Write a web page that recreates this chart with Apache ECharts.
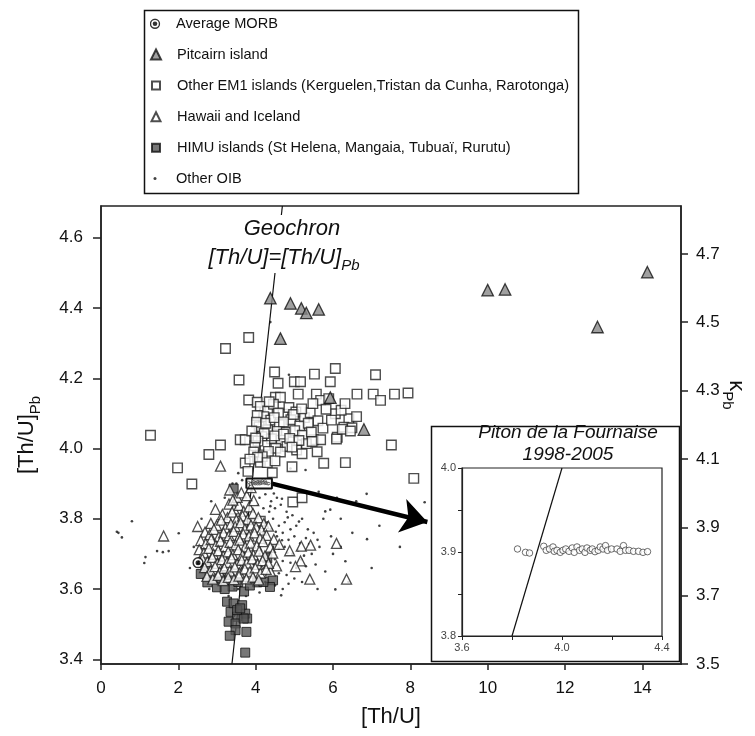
<!DOCTYPE html>
<html><head><meta charset="utf-8">
<script src="https://cdn.jsdelivr.net/npm/echarts@6/dist/echarts.min.js"></script>
<style>html,body{margin:0;padding:0;background:#fff}#c{width:755px;height:736px}</style>
</head><body><div id="c"></div>
<script>
// ---------- tick values ----------
const xTicks = [0, 2, 4, 6, 8, 10, 12, 14];
const yTicksLeft = [3.4, 3.6, 3.8, 4.0, 4.2, 4.4, 4.6];
const yTicksRight = [3.5, 3.7, 3.9, 4.1, 4.3, 4.5, 4.7];
const insetXTicks = [3.6, 3.8, 4.0, 4.2, 4.4];
const insetXLabels = [3.6, 4.0, 4.4];
const insetYTicks = [3.8, 3.85, 3.9, 3.95, 4.0];
const insetYLabels = [3.8, 3.9, 4.0];

// ---------- series names ----------
const names = ['Average MORB', 'Pitcairn island', 'Other EM1 islands (Kerguelen,Tristan da Cunha, Rarotonga)',
  'Hawaii and Iceland', 'HIMU islands (St Helena, Mangaia, Tubuaï, Rurutu)', 'Other OIB'];

// ---------- data [Th/U, [Th/U]Pb] ----------
const morb = [[2.51, 3.675]];
const pitcairn = [[4.38, 4.428], [4.90, 4.413], [5.18, 4.399], [5.31, 4.386], [5.63, 4.396], [4.64, 4.313],
  [5.93, 4.145], [6.80, 4.054], [10.0, 4.451], [10.45, 4.453], [12.84, 4.346], [14.13, 4.502]];
const em1 = [[3.82, 4.316], [3.22, 4.285], [4.49, 4.218], [3.57, 4.195], [4.58, 4.186], [5.00, 4.19], [5.16, 4.19],
  [5.52, 4.212], [6.06, 4.228], [5.93, 4.19], [7.10, 4.21], [5.10, 4.155], [5.57, 4.155], [6.62, 4.155], [7.04, 4.155],
  [7.23, 4.137], [7.59, 4.155], [7.94, 4.158], [3.82, 4.138], [4.04, 4.132], [4.51, 4.146], [4.64, 4.146], [5.68, 4.137],
  [6.06, 4.099], [6.41, 4.085], [6.28, 4.061], [6.49, 4.059], [1.28, 4.038], [3.09, 4.010], [3.60, 4.025], [3.73, 4.025],
  [6.11, 4.032], [7.51, 4.010], [5.50, 4.025], [5.68, 4.025],
  [4.12, 4.12], [4.31, 4.107], [4.46, 4.126], [4.71, 4.098], [4.86, 4.117], [5.04, 4.104], [5.26, 4.088], [5.41, 4.102],
  [5.61, 4.079], [5.82, 4.112], [4.21, 4.091], [4.39, 4.081], [4.61, 4.068], [4.91, 4.082], [5.14, 4.064], [5.36, 4.072],
  [5.74, 4.058], [4.09, 4.062], [4.31, 4.053], [4.56, 4.049], [4.79, 4.046], [5.01, 4.051], [5.21, 4.038], [5.44, 4.047],
  [4.16, 4.034], [4.41, 4.028], [4.66, 4.024], [4.96, 4.019], [5.31, 4.014], [4.24, 4.009], [4.52, 4.001], [4.81, 4.006],
  [5.06, 3.996], [4.04, 4.094], [4.59, 4.101], [5.96, 4.081], [6.21, 4.109], [6.61, 4.091], [5.89, 4.142], [6.31, 4.128],
  [4.02, 4.075], [4.26, 4.072], [4.48, 4.088], [4.72, 4.076], [4.98, 4.097], [5.19, 4.113], [5.48, 4.128], [4.35, 4.133],
  [4.22, 4.043], [4.49, 4.036], [4.72, 4.041], [4.88, 4.029], [5.12, 4.023], [4.06, 4.021], [4.33, 3.992], [3.98, 4.008],
  [2.79, 3.983], [1.98, 3.945], [2.35, 3.899], [3.73, 3.959], [3.80, 3.935], [4.43, 3.931], [4.12, 3.961], [4.17, 3.977],
  [4.64, 3.99], [4.94, 4.004], [5.20, 3.985], [5.59, 3.991], [4.94, 3.948], [5.76, 3.958], [6.32, 3.96], [6.09, 4.027],
  [5.46, 4.02], [6.24, 4.055], [6.45, 4.05], [8.09, 3.915], [4.96, 3.848], [5.20, 3.860], [4.12, 3.793],
  [3.95, 3.99], [4.05, 3.975], [3.90, 4.05], [4.00, 4.03], [3.85, 3.97], [4.30, 3.96], [4.50, 3.965]];
const hawaii = [[3.09, 3.950], [3.33, 3.882], [1.62, 3.751], [2.96, 3.827], [2.50, 3.778], [4.88, 3.709], [5.18, 3.722],
  [5.42, 3.725], [6.09, 3.730], [5.16, 3.680], [5.03, 3.664], [5.40, 3.628], [6.35, 3.628], [4.54, 3.666], [4.38, 3.651],
  [3.31, 3.842], [3.44, 3.828], [3.57, 3.838], [3.69, 3.821], [3.83, 3.834], [3.95, 3.852], [3.52, 3.861], [3.63, 3.874],
  [3.77, 3.866], [3.88, 3.889], [3.41, 3.853],
  [3.14, 3.812], [3.27, 3.803], [3.39, 3.819], [3.50, 3.797], [3.66, 3.808], [3.79, 3.798], [3.93, 3.815], [4.07, 3.803], [4.21, 3.786],
  [2.84, 3.787], [2.99, 3.781], [3.11, 3.796], [3.22, 3.774], [3.36, 3.785], [3.47, 3.778], [3.61, 3.789], [3.72, 3.771],
  [3.88, 3.782], [4.01, 3.776], [4.15, 3.768], [4.33, 3.779],
  [2.69, 3.762], [2.81, 3.755], [2.92, 3.770], [3.05, 3.749], [3.17, 3.760], [3.31, 3.752], [3.43, 3.764], [3.56, 3.746],
  [3.68, 3.757], [3.83, 3.751], [3.97, 3.760], [4.11, 3.744], [4.28, 3.753], [4.47, 3.741],
  [2.58, 3.738], [2.71, 3.729], [2.85, 3.741], [2.97, 3.724], [3.09, 3.736], [3.21, 3.721], [3.34, 3.733], [3.48, 3.726],
  [3.59, 3.739], [3.73, 3.720], [3.87, 3.731], [4.03, 3.723], [4.19, 3.735], [4.38, 3.719], [4.61, 3.727],
  [2.54, 3.712], [2.66, 3.703], [2.79, 3.716], [2.91, 3.699], [3.03, 3.709], [3.16, 3.694], [3.29, 3.706], [3.41, 3.698],
  [3.55, 3.712], [3.66, 3.696], [3.81, 3.705], [3.94, 3.697], [4.09, 3.708], [4.24, 3.694], [4.44, 3.702],
  [2.62, 3.686], [2.75, 3.678], [2.88, 3.690], [3.01, 3.673], [3.13, 3.684], [3.26, 3.676], [3.38, 3.688], [3.52, 3.671],
  [3.64, 3.682], [3.77, 3.674], [3.91, 3.686], [4.05, 3.670], [4.18, 3.681], [4.33, 3.673],
  [2.68, 3.661], [2.83, 3.652], [2.95, 3.664], [3.07, 3.648], [3.19, 3.659], [3.33, 3.651], [3.46, 3.663], [3.58, 3.646],
  [3.72, 3.657], [3.85, 3.649], [3.99, 3.660], [4.12, 3.645], [4.27, 3.656],
  [2.74, 3.636], [2.89, 3.628], [3.03, 3.639], [3.16, 3.624], [3.29, 3.633], [3.44, 3.627], [3.57, 3.637], [3.76, 3.629],
  [3.93, 3.634], [4.08, 3.626]];
const himu = [[2.58, 3.643], [2.75, 3.619], [3.40, 3.607], [3.70, 3.593], [4.04, 3.619], [4.30, 3.688], [4.45, 3.625],
  [4.37, 3.606], [3.43, 3.886], [2.90, 3.63], [3.10, 3.625], [3.25, 3.64], [3.55, 3.62], [3.85, 3.61], [4.20, 3.62],
  [2.70, 3.66], [3.00, 3.605], [3.20, 3.60],
  [3.26, 3.564], [3.43, 3.559], [3.65, 3.554], [3.73, 3.530], [3.35, 3.535], [3.52, 3.521], [3.78, 3.516], [3.30, 3.507],
  [3.48, 3.502], [3.69, 3.516], [3.48, 3.483], [3.76, 3.478], [3.33, 3.467], [3.73, 3.419], [3.52, 3.540], [3.60, 3.545]];
const otherOib = [[0.41, 3.763], [0.54, 3.747], [0.80, 3.793], [1.15, 3.691], [1.12, 3.674], [1.45, 3.708], [1.60, 3.705],
  [1.75, 3.708], [2.01, 3.759], [0.45, 3.760],
  [3.90, 3.88], [4.10, 3.86], [4.25, 3.87], [4.40, 3.85], [4.55, 3.86], [4.05, 3.84], [4.20, 3.83], [4.35, 3.82], [4.50, 3.83],
  [4.65, 3.84], [4.80, 3.82], [4.95, 3.81], [3.95, 3.82], [4.15, 3.80], [4.30, 3.79], [4.45, 3.80], [4.60, 3.78], [4.75, 3.79],
  [4.90, 3.77], [5.05, 3.78], [5.20, 3.80], [5.35, 3.77], [3.85, 3.79], [4.00, 3.78], [4.20, 3.76], [4.40, 3.77], [4.55, 3.75],
  [4.70, 3.76], [4.85, 3.74], [5.00, 3.75], [5.15, 3.73], [5.30, 3.745], [5.50, 3.76], [5.60, 3.74], [3.80, 3.76], [4.05, 3.74],
  [4.25, 3.73], [4.45, 3.72], [4.60, 3.715], [4.75, 3.72], [4.95, 3.70], [5.10, 3.71], [5.25, 3.695], [5.45, 3.70], [5.65, 3.72],
  [3.90, 3.72], [4.10, 3.70], [4.30, 3.69], [4.50, 3.685], [4.70, 3.68], [4.90, 3.675], [5.05, 3.66], [5.30, 3.665], [5.55, 3.67],
  [3.75, 3.69], [3.95, 3.67], [4.15, 3.665], [4.35, 3.655], [4.60, 3.645], [4.80, 3.64], [5.00, 3.63], [5.20, 3.62], [3.60, 3.65],
  [3.85, 3.64], [4.05, 3.63], [4.25, 3.62], [4.50, 3.61], [4.70, 3.60], [4.66, 3.582], [3.55, 3.60], [3.75, 3.58], [4.10, 3.59],
  [4.85, 3.615], [4.47, 3.872], [4.68, 3.857], [4.38, 3.836], [4.83, 3.804], [5.12, 3.792], [4.52, 3.763], [4.68, 3.739],
  [5.38, 3.728], [4.82, 3.703], [4.37, 3.706], [5.18, 3.684], [4.57, 3.668],
  [5.63, 3.877], [5.80, 3.821], [5.93, 3.826], [6.87, 3.871], [6.88, 3.742], [6.32, 3.679], [6.06, 3.599], [7.73, 3.720],
  [8.37, 3.847], [4.90, 3.943], [5.29, 3.939], [6.20, 3.80], [6.50, 3.76], [6.00, 3.70], [6.60, 3.85], [7.20, 3.78], [5.80, 3.65],
  [6.40, 3.62], [5.60, 3.60], [7.00, 3.66], [5.95, 3.75], [6.20, 3.72], [5.75, 3.80], [6.10, 3.86],
  [2.60, 3.80], [2.85, 3.85], [3.00, 3.68], [3.20, 3.86], [3.40, 3.90], [3.55, 3.93], [3.10, 3.62], [2.40, 3.72], [2.30, 3.66],
  [3.30, 3.58], [3.50, 3.90], [3.65, 3.91], [3.45, 3.60], [2.80, 3.60], [4.38, 4.36], [4.86, 4.21], [4.66, 4.02]];
// Piton de la Fournaise 1998-2005
const piton = [[3.822, 3.9036], [3.854, 3.8996], [3.870, 3.8988], [3.927, 3.9068], [3.937, 3.902], [3.950, 3.9036],
  [3.964, 3.906], [3.969, 3.9008], [3.980, 3.902], [3.993, 3.8996], [4.004, 3.902], [4.015, 3.9036], [4.028, 3.9008],
  [4.041, 3.9048], [4.049, 3.8996], [4.060, 3.906], [4.070, 3.902], [4.081, 3.9036], [4.092, 3.8996], [4.100, 3.9048],
  [4.113, 3.902], [4.121, 3.9036], [4.132, 3.9004], [4.145, 3.902], [4.153, 3.906], [4.164, 3.9036], [4.174, 3.9076],
  [4.182, 3.902], [4.198, 3.9036], [4.220, 3.9036], [4.233, 3.9008], [4.246, 3.9076], [4.254, 3.902], [4.268, 3.902],
  [4.286, 3.9008], [4.306, 3.9008], [4.324, 3.8996], [4.342, 3.9004]];
// Geochron [Th/U]=[Th/U]Pb
const geochronMain = [[3.3866, 3.3866], [4.6905, 4.6905]];
const geochronInset = [[3.8, 3.8], [4.0, 4.0]];
// zoom box and arrow (data coordinates)
const zoomBox = [[3.76, 3.886], [4.42, 3.886], [4.42, 3.915], [3.76, 3.915], [3.76, 3.886]];
const arrow = [[4.42, 3.900], [8.44, 3.791]];

const FF = '"Liberation Sans", Arial, Helvetica, sans-serif';
const morbSvg = "<svg xmlns='http://www.w3.org/2000/svg' width='24' height='24' viewBox='0 0 24 24'><circle cx='12' cy='12' r='9.8' fill='white' stroke='black' stroke-width='3'/><circle cx='12' cy='12' r='5' fill='black'/></svg>";
const morbSymbol = 'image://data:image/svg+xml;charset=utf-8,' + encodeURIComponent(morbSvg);

const chart = echarts.init(document.getElementById('c'), null, {renderer: 'canvas'});

const legendRows = [24.3, 55, 86, 117.3, 148.3, 179];
const legendSizes = [11, 10, 8, 9, 8, 3];
const legends = names.map((n, i) => ({
  data: [n], left: 155 - legendSizes[i] / 2, top: legendRows[i] - 8, orient: 'vertical', padding: 0,
  itemWidth: legendSizes[i], itemHeight: legendSizes[i], selectedMode: false,
  textStyle: {fontSize: 14.6, color: '#111', fontFamily: FF, padding: [0, 0, 0, 16 - legendSizes[i] / 2]}
}));

const axisLine = {show: true, lineStyle: {color: '#222', width: 1.5}};
const fmt1 = v => v.toFixed(1);

chart.setOption({
  animation: false,
  backgroundColor: '#fff',
  legend: legends,
  grid: [
    {left: 101, right: 74, top: 206, bottom: 72, show: true, borderColor: '#222', borderWidth: 1.5,
     containLabel: false, outerBoundsMode: 'none'},
    {left: 462, top: 468, width: 200, height: 168, show: true, borderColor: '#222', borderWidth: 1.2,
     containLabel: false, outerBoundsMode: 'none'}
  ],
  xAxis: [
    {type: 'value', gridIndex: 0, min: 0, max: 15, position: 'bottom',
     name: '[Th/U]', nameLocation: 'middle', nameGap: 42,
     nameTextStyle: {fontSize: 22, color: '#111', fontFamily: FF},
     axisLine, splitLine: {show: false},
     axisTick: {show: true, length: 6, lineStyle: {color: '#222', width: 1.5}, customValues: xTicks},
     axisLabel: {fontSize: 17, color: '#111', fontFamily: FF, margin: 16, customValues: xTicks, formatter: v => String(v)}},
    {type: 'value', gridIndex: 1, min: 3.6, max: 4.4, position: 'bottom',
     axisLine: {show: true, lineStyle: {color: '#222', width: 1.2}}, splitLine: {show: false},
     axisTick: {show: true, length: 4, lineStyle: {color: '#222'}, customValues: insetXTicks},
     axisLabel: {fontSize: 11, color: '#444', fontFamily: FF, margin: 6, customValues: insetXLabels, formatter: fmt1}}
  ],
  yAxis: [
    {type: 'value', gridIndex: 0, min: 3.3866, max: 4.6905, position: 'left',
     name: '{a|[Th/U]}{b|Pb}', nameLocation: 'middle', nameGap: 58, nameRotate: 90,
     nameTextStyle: {color: '#111', fontFamily: FF, rich: {
       a: {fontSize: 22, lineHeight: 32, verticalAlign: 'middle', fontFamily: FF, color: '#111'},
       b: {fontSize: 15, lineHeight: 32, verticalAlign: 'bottom', fontFamily: FF, color: '#111'}}},
     axisLine, splitLine: {show: false},
     axisTick: {show: true, length: 8, lineStyle: {color: '#222', width: 1.5}, customValues: yTicksLeft},
     axisLabel: {fontSize: 17, color: '#111', fontFamily: FF, margin: 18, customValues: yTicksLeft, formatter: fmt1}},
    {type: 'value', gridIndex: 0, min: 3.5, max: 4.84, position: 'right',
     name: '{a|κ}{b|Pb}', nameLocation: 'middle', nameGap: 39, nameRotate: -90, nameMoveOverlap: false,
     nameTextStyle: {color: '#111', fontFamily: FF, padding: [0, 80, 0, 0], rich: {
       a: {fontSize: 22, lineHeight: 32, verticalAlign: 'middle', fontFamily: FF, color: '#111'},
       b: {fontSize: 15, lineHeight: 32, verticalAlign: 'bottom', fontFamily: FF, color: '#111'}}},
     axisLine, splitLine: {show: false},
     axisTick: {show: true, length: 7, lineStyle: {color: '#222', width: 1.5}, customValues: yTicksRight},
     axisLabel: {fontSize: 17, color: '#111', fontFamily: FF, margin: 15, customValues: yTicksRight, formatter: fmt1}},
    {type: 'value', gridIndex: 1, min: 3.8, max: 4.0, position: 'left',
     axisLine: {show: true, lineStyle: {color: '#222', width: 1.2}}, splitLine: {show: false},
     axisTick: {show: true, length: 4, lineStyle: {color: '#222'}, customValues: insetYTicks},
     axisLabel: {fontSize: 11, color: '#444', fontFamily: FF, margin: 6, customValues: insetYLabels, formatter: fmt1}}
  ],
  series: [
    {type: 'line', xAxisIndex: 0, yAxisIndex: 0, data: geochronMain, symbol: 'none', silent: true,
     lineStyle: {color: '#111', width: 1.2}, z: 1},
    {name: names[5], type: 'scatter', xAxisIndex: 0, yAxisIndex: 0, data: otherOib, symbol: 'circle', symbolSize: 2.6,
     itemStyle: {color: '#111'}},
    {name: names[4], type: 'scatter', xAxisIndex: 0, yAxisIndex: 0, data: himu, symbol: 'rect', symbolSize: 9,
     itemStyle: {color: '#555', borderColor: '#111', borderWidth: 1}},
    {name: names[2], type: 'scatter', xAxisIndex: 0, yAxisIndex: 0, data: em1, symbol: 'rect', symbolSize: 9.5,
     itemStyle: {color: '#fff', borderColor: '#222', borderWidth: 1.4}},
    {name: names[3], type: 'scatter', xAxisIndex: 0, yAxisIndex: 0, data: hawaii, symbol: 'triangle', symbolSize: 10,
     itemStyle: {color: '#fff', borderColor: '#222', borderWidth: 1.3}},
    {name: names[1], type: 'scatter', xAxisIndex: 0, yAxisIndex: 0, data: pitcairn, symbol: 'triangle', symbolSize: 11.5,
     itemStyle: {color: '#888', borderColor: '#111', borderWidth: 1.3}},
    {name: names[0], type: 'scatter', xAxisIndex: 0, yAxisIndex: 0, data: morb, symbol: morbSymbol, symbolSize: 12},
    {type: 'scatter', xAxisIndex: 0, yAxisIndex: 0, data: piton, symbol: 'circle', symbolSize: 2.5, silent: true,
     itemStyle: {color: '#fff', borderColor: '#111', borderWidth: 0.6}, z: 5},
    {type: 'line', xAxisIndex: 0, yAxisIndex: 0, data: zoomBox, symbol: 'none', silent: true,
     lineStyle: {color: '#111', width: 2}, z: 6},
    {type: 'lines', coordinateSystem: 'cartesian2d', xAxisIndex: 0, yAxisIndex: 0, silent: true,
     data: [{coords: arrow}], symbol: ['none', 'arrow'], symbolSize: [20, 26],
     lineStyle: {color: '#000', width: 4.5, opacity: 1}, z: 6},
    {type: 'line', xAxisIndex: 1, yAxisIndex: 2, data: geochronInset, symbol: 'none', silent: true,
     lineStyle: {color: '#111', width: 1.2}},
    {type: 'scatter', xAxisIndex: 1, yAxisIndex: 2, data: piton, symbol: 'circle', symbolSize: 6.5, silent: true,
     itemStyle: {color: '#fff', borderColor: '#333', borderWidth: 0.9}}
  ],
  graphic: [
    {type: 'rect', left: 142, top: 8, shape: {width: 434, height: 183}, z: -1,
     style: {fill: 'none', stroke: '#111', lineWidth: 1.5}},
    {type: 'rect', left: 429, top: 424, shape: {width: 248, height: 235}, z: -1,
     style: {fill: 'none', stroke: '#111', lineWidth: 1.5}},
    {type: 'rect', left: 200, top: 215, shape: {width: 172, height: 58}, z: 50,
     style: {fill: '#fff'}},
    {type: 'text', x: 292, y: 229, z: 51,
     style: {text: 'Geochron', fontSize: 22, fontStyle: 'italic', fontFamily: FF, fill: '#111',
       align: 'center', verticalAlign: 'middle'}},
    {type: 'text', x: 284, y: 258, z: 51,
     style: {text: '{a|[Th/U]=[Th/U]}{b|Pb}', align: 'center', verticalAlign: 'middle',
       rich: {a: {fontSize: 22, fontStyle: 'italic', fontFamily: FF, fill: '#111', lineHeight: 30, verticalAlign: 'middle'},
              b: {fontSize: 15, fontStyle: 'italic', fontFamily: FF, fill: '#111', lineHeight: 30, verticalAlign: 'bottom'}}}},
    {type: 'text', x: 568, y: 433, z: 51,
     style: {text: 'Piton de la Fournaise', fontSize: 19, fontStyle: 'italic', fontFamily: FF, fill: '#111',
       align: 'center', verticalAlign: 'middle'}},
    {type: 'text', x: 568, y: 455, z: 51,
     style: {text: '1998-2005', fontSize: 19, fontStyle: 'italic', fontFamily: FF, fill: '#111',
       align: 'center', verticalAlign: 'middle'}}
  ]
});
</script></body></html>
